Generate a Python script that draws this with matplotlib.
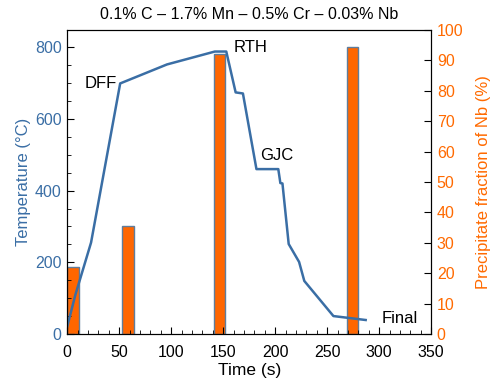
import matplotlib
matplotlib.use("Agg")
import matplotlib.pyplot as plt
from matplotlib.ticker import MultipleLocator

plt.rcParams['font.family'] = ['Liberation Sans', 'DejaVu Sans']

# temperature profile (time in s, temperature in C)
time_s = [0, 8, 23, 51, 96, 142, 153, 162, 169, 182, 203, 205, 207, 213, 223, 228, 256, 287]
temp_c = [20, 110, 255, 699, 752, 788, 788, 674, 671, 460, 460, 421, 420, 251, 201, 148, 50, 39]

# precipitate fraction bars (left edge in s, fraction in %)
bar_left = [0, 53, 141, 269]
bar_frac = [22, 35.5, 92, 94.5]
bar_w = 11

blue = '#3a6ea5'
orange = '#ff6a00'

fig = plt.figure(figsize=(4.9, 3.85), dpi=100)
ax = fig.add_axes([0.137, 0.1325, 0.743, 0.7895])
ax2 = ax.twinx()

ax2.bar(bar_left, bar_frac, width=bar_w, align='edge', color='#ff6600',
        edgecolor='#5f7d9c', linewidth=1)
ax.plot(time_s, temp_c, color=blue, lw=1.8)

ax.set_zorder(ax2.get_zorder() + 1)
ax.patch.set_visible(False)

ax.set_xlim(0, 350)
ax.set_ylim(0, 848)
ax2.set_ylim(0, 100)

ax.xaxis.set_major_locator(MultipleLocator(50))
ax.xaxis.set_minor_locator(MultipleLocator(10))
ax.yaxis.set_major_locator(MultipleLocator(200))
ax.yaxis.set_minor_locator(MultipleLocator(50))
ax2.yaxis.set_major_locator(MultipleLocator(10))

ax.tick_params(which='both', direction='in', top=False, labelsize=11.5)
ax.tick_params(which='major', length=5)
ax.tick_params(which='minor', length=3)
ax.tick_params(axis='x', pad=8)
ax.tick_params(axis='y', labelcolor=blue, pad=4)
ax2.tick_params(direction='in', length=5, labelsize=11.5, labelcolor=orange, pad=4)

ax.set_xlabel('Time (s)', fontsize=12.5, labelpad=2)
ax.set_ylabel('Temperature (°C)', fontsize=12, color=blue, labelpad=3)
ax2.set_ylabel('Precipitate fraction of Nb (%)', fontsize=12, color=orange, labelpad=9)
ax.set_title('0.1% C – 1.7% Mn – 0.5% Cr – 0.03% Nb', fontsize=11.5, pad=8)

ax.text(48, 699, 'DFF', fontsize=12, ha='right', va='center')
ax.text(160, 800, 'RTH', fontsize=12, ha='left', va='center')
ax.text(186, 498, 'GJC', fontsize=12, ha='left', va='center')
ax.text(302, 44, 'Final', fontsize=12, ha='left', va='center')

fig.savefig('out.png', dpi=100)
